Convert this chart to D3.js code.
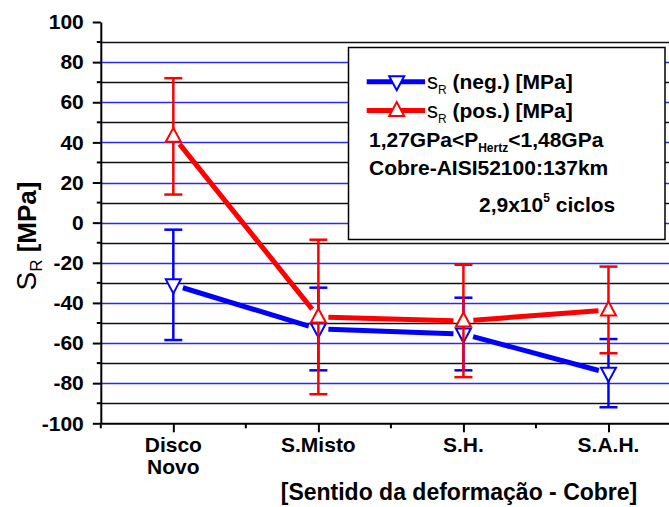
<!DOCTYPE html>
<html>
<head>
<meta charset="utf-8">
<script src="https://cdn.jsdelivr.net/npm/d3@7"></script>
<style>
  body { margin: 0; background: #fff; }
  text { font-family: "Liberation Sans", Arial, sans-serif; }
</style>
</head>
<body>
<div id="chart"></div>
<script>
// data
const categories = ['Disco Novo', 'S.Misto', 'S.H.', 'S.A.H.']
const negValues = [-31, -53, -55.5, -75]
const negErrors = [27.5, 20.6, 18.1, 17]
const posValues = [43, -47, -49, -43.5]
const posErrors = [29, 38.5, 28, 21.6]
const yTicks = [-100, -80, -60, -40, -20, 0, 20, 40, 60, 80, 100]

const W = 669, H = 507

const svg = d3.select('#chart')
    .append('svg')
        .attr('width', W)
        .attr('height', H)

const x = d3.scaleLinear().domain([0.5, 4.5]).range([100.8, 681])
const y = d3.scaleLinear().domain([-100, 100]).range([423.3, 22])

// grid lines: blue on the 20s, black on the odd 10s
const gridVals = d3.range(-90, 100, 10)
svg.append('g').selectAll('line')
    .data(gridVals)
    .enter()
    .append('line')
        .attr('x1', x(0.5))
        .attr('x2', W)
        .attr('y1', d => Math.round(y(d)) + 0.5)
        .attr('y2', d => Math.round(y(d)) + 0.5)
        .attr('stroke', d => d % 20 === 0 ? '#2a2aff' : '#111')
        .attr('stroke-width', d => d % 20 === 0 ? 1.3 : 1.6)

// y axis (plain hyphen for negatives, like the original)
const yAxis = d3.axisLeft(y).tickValues(yTicks).tickSize(8).tickPadding(9).tickSizeOuter(0)
    .tickFormat(d => String(d))
const gy = svg.append('g').attr('transform', `translate(${x(0.5)},0)`).call(yAxis)
gy.select('.domain').attr('stroke', '#000').attr('stroke-width', 2)
gy.selectAll('.tick line').attr('stroke', '#000').attr('stroke-width', 2)
gy.selectAll('.tick text')
    .attr('font-size', 21).attr('font-weight', 'bold').attr('fill', '#000')
    .attr('font-family', '"Liberation Sans", Arial, sans-serif')
// minor y ticks
svg.append('g').selectAll('line')
    .data(gridVals.filter(d => d % 20 !== 0))
    .enter()
    .append('line')
        .attr('x1', x(0.5) - 4).attr('x2', x(0.5))
        .attr('y1', d => y(d)).attr('y2', d => y(d))
        .attr('stroke', '#000').attr('stroke-width', 2)

// x axis
const xAxis = d3.axisBottom(x).tickValues([1, 2, 3, 4]).tickSize(9).tickFormat('').tickSizeOuter(0)
const gx = svg.append('g').attr('transform', `translate(0,${y(-100)})`).call(xAxis)
gx.select('.domain').attr('stroke', '#000').attr('stroke-width', 2)
gx.selectAll('.tick line').attr('stroke', '#000').attr('stroke-width', 2)
svg.append('g').selectAll('line')
    .data([0.5, 1.5, 2.5, 3.5])
    .enter()
    .append('line')
        .attr('x1', d => x(d)).attr('x2', d => x(d))
        .attr('y1', y(-100)).attr('y2', y(-100) + 5)
        .attr('stroke', '#000').attr('stroke-width', 2)

// category labels
const catLabels = svg.append('g').selectAll('text')
    .data(categories)
    .enter()
    .append('text')
        .attr('x', (d, i) => x(i + 1))
        .attr('y', 452)
        .attr('text-anchor', 'middle')
        .attr('font-size', 21)
        .attr('font-weight', 'bold')
catLabels.each(function(d) {
    const words = d.split(' ')
    d3.select(this).selectAll('tspan')
        .data(words)
        .enter()
        .append('tspan')
            .attr('x', d3.select(this).attr('x'))
            .attr('dy', (w, j) => j === 0 ? 0 : 22)
            .text(w => w)
})

// axis titles
svg.append('text')
    .attr('x', 459).attr('y', 500)
    .attr('text-anchor', 'middle')
    .attr('font-size', 23).attr('font-weight', 'bold')
    .text('[Sentido da deformação - Cobre]')

const yt = svg.append('text')
    .attr('transform', 'translate(36,236) rotate(-90)')
    .attr('text-anchor', 'middle')
yt.append('tspan').attr('font-size', 28).text('S')
yt.append('tspan').attr('font-size', 17).attr('dy', 6).text('R')
yt.append('tspan').attr('font-size', 26).attr('font-weight', 'bold').attr('dy', -6).text(' [MPa]')

// series
const series = [
    { name: 'neg', values: negValues, errors: negErrors, color: '#0000ff', up: false },
    { name: 'pos', values: posValues, errors: posErrors, color: '#ff0000', up: true }
]

const tri = (up) => up ? 'M0,-8.5L7.5,5.5L-7.5,5.5Z' : 'M0,8.5L7.5,-5.5L-7.5,-5.5Z'
const gap = 10

series.forEach(s => {
    const pts = s.values.map((v, i) => [x(i + 1), y(v)])
    const segs = d3.pairs(pts).map(([a, b]) => {
        const dx = b[0] - a[0], dy = b[1] - a[1]
        const len = Math.hypot(dx, dy)
        const ux = dx / len, uy = dy / len
        return [a[0] + ux * gap, a[1] + uy * gap, b[0] - ux * gap, b[1] - uy * gap]
    })
    const g = svg.append('g')
    g.selectAll('line.seg')
        .data(segs)
        .enter()
        .append('line')
            .attr('class', 'seg')
            .attr('x1', d => d[0]).attr('y1', d => d[1])
            .attr('x2', d => d[2]).attr('y2', d => d[3])
            .attr('stroke', s.color).attr('stroke-width', 5)
    s.g = g
    s.pts = pts
})

series.forEach(s => {
    const g = s.g
    const eb = g.selectAll('g.err')
        .data(s.values.map((v, i) => ({ i, v, e: s.errors[i] })))
        .enter()
        .append('g')
    eb.append('line')
        .attr('x1', d => x(d.i + 1)).attr('x2', d => x(d.i + 1))
        .attr('y1', d => y(d.v + d.e)).attr('y2', d => y(d.v - d.e))
        .attr('stroke', s.color).attr('stroke-width', 2.5)
    eb.append('line')
        .attr('x1', d => x(d.i + 1) - 9).attr('x2', d => x(d.i + 1) + 9)
        .attr('y1', d => y(d.v + d.e)).attr('y2', d => y(d.v + d.e))
        .attr('stroke', s.color).attr('stroke-width', 2.5)
    eb.append('line')
        .attr('x1', d => x(d.i + 1) - 9).attr('x2', d => x(d.i + 1) + 9)
        .attr('y1', d => y(d.v - d.e)).attr('y2', d => y(d.v - d.e))
        .attr('stroke', s.color).attr('stroke-width', 2.5)
})

series.forEach(s => {
    s.g.selectAll('path.mk')
        .data(s.pts)
        .enter()
        .append('path')
            .attr('class', 'mk')
            .attr('d', tri(s.up))
            .attr('transform', d => `translate(${d[0]},${d[1]})`)
            .attr('fill', '#fff')
            .attr('stroke', s.color).attr('stroke-width', 2)
})

// legend box
const lg = svg.append('g')
lg.append('rect')
    .attr('x', 348.5).attr('y', 47.5).attr('width', 316.5).attr('height', 192)
    .attr('fill', '#fff').attr('stroke', '#000').attr('stroke-width', 1.5)

const legendRows = [
    { s: series[0], y: 81.7, label: ' (neg.) [MPa]' },
    { s: series[1], y: 110.5, label: ' (pos.) [MPa]' }
]
legendRows.forEach(r => {
    lg.append('line')
        .attr('x1', 366.7).attr('x2', 425)
        .attr('y1', r.y).attr('y2', r.y)
        .attr('stroke', r.s.color).attr('stroke-width', 5)
    lg.append('path')
        .attr('d', tri(r.s.up))
        .attr('transform', `translate(396.7,${r.y})`)
        .attr('fill', '#fff').attr('stroke', r.s.color).attr('stroke-width', 2)
    const t = lg.append('text').attr('x', 427).attr('y', r.y + 7)
    t.append('tspan').attr('font-size', 22).text('s')
    t.append('tspan').attr('font-size', 12).attr('dy', 5).text('R')
    t.append('tspan').attr('font-size', 21).attr('font-weight', 'bold').attr('dy', -5).text(r.label)
})

const t3 = lg.append('text').attr('x', 369).attr('y', 146.7).attr('font-size', 21).attr('font-weight', 'bold')
t3.append('tspan').text('1,27GPa<P')
t3.append('tspan').attr('font-size', 12).attr('dy', 5).text('Hertz')
t3.append('tspan').attr('dy', -5).text('<1,48GPa')

lg.append('text').attr('x', 369).attr('y', 175).attr('font-size', 21).attr('font-weight', 'bold')
    .text('Cobre-AISI52100:137km')

const t5 = lg.append('text').attr('x', 479).attr('y', 211.7).attr('font-size', 21).attr('font-weight', 'bold')
t5.append('tspan').text('2,9x10')
t5.append('tspan').attr('font-size', 12).attr('dy', -10).text('5')
t5.append('tspan').attr('dy', 10).text(' ciclos')
</script>
</body>
</html>
